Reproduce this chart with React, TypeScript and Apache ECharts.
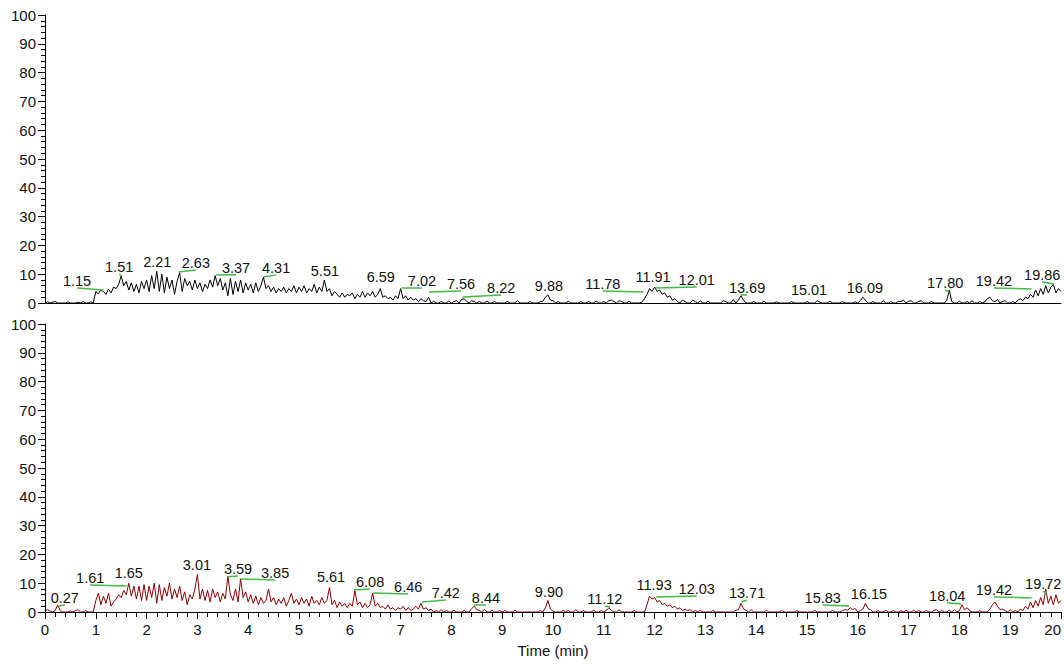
import React, { useEffect, useRef } from "react";
import * as echarts from "echarts";

// sampling step of the traces (minutes)
const STEP = 0.05;

// Upper trace (black), one row per minute, 20 samples each
const topTrace: number[][] = [
  [0,0.4,0,0.3,0.5,0,0,0,0,0.4,0,0,0,0.3,0,0.5,0,0,0.4,0],
  [4.0,3.2,4.5,4.0,3.0,4.8,3.5,5.5,5.0,6.5,9.4,6.0,7.5,4.5,7.0,4.0,6.5,3.5,7.5,5.0],
  [8.0,4.0,9.5,5.0,11.0,4.0,10.0,3.5,9.0,5.0,8.0,3.0,7.5,10.5,4.0,8.5,6.0,7.5,4.5,8.0],
  [5.0,7.0,4.0,6.5,5.0,8.0,5.5,9.5,6.0,8.5,4.5,7.0,2.5,8.5,3.0,7.5,4.0,8.0,3.5,7.0],
  [4.5,6.5,3.5,7.0,4.0,6.0,9.0,5.0,6.0,4.0,5.5,3.5,5.0,4.0,5.5,3.5,5.0,4.0,6.0,3.5],
  [5.5,4.0,6.0,3.5,5.0,4.0,6.5,3.5,5.5,4.0,8.0,4.0,5.0,2.5,4.0,3.0,2.0,3.5,2.0,3.0],
  [2.5,3.5,1.5,3.0,2.0,4.0,2.0,3.5,2.5,4.0,2.0,3.0,5.0,2.0,2.5,1.5,2.0,1.0,2.5,1.5],
  [5.0,1.5,2.5,1.0,2.0,1.0,1.5,0.5,1.5,0.8,0.5,2.0,0,0.6,0,0,0.5,0,0,0.7],
  [0,0.5,0.8,0,1.2,1.5,0.6,0,0.8,0.5,0,0.6,0,0,0.7,0,0,0.5,0,0],
  [0,0,0.6,0,0,0,0.8,0,0,0,0,0.5,0,0,0,0.5,0.6,2.0,2.8,1.0],
  [0.8,0,0.5,0,0,0,0.6,0,0,0,0,0.5,0,0,0.5,0,0,0.7,0,0],
  [0.5,0,0.8,1.0,0.5,0,0.8,0.5,0,0,0.6,0,0,0,0,0.3,1.5,3.0,5.0,4.0],
  [5.5,4.0,4.5,3.0,3.5,2.0,2.5,1.0,1.5,0.5,0,1.0,0.5,0,0,1.0,0.5,0,0.8,0],
  [0,0.6,0,0,0,0,0,0.8,0.5,0,0,1.2,0,1.0,2.5,1.0,0,0,0,0.5],
  [0,0,0,0.6,0,0,0,0,0.4,0,0,0,0,0,0.5,0,0,0,0,0],
  [0.5,0,0,0,0.8,0.3,0,0,0,0.6,0,0,0,0,0.5,0,0,0,0,0.4],
  [0,0.8,2.0,1.0,0,0,0.5,0,0,0,0.8,0,0,0.5,0,0,0.6,0.5,1.0,0],
  [0.6,0.8,0,0,0.6,0.8,0,0,0,0.5,0,0,0,0,0,0.8,4.5,0.5,0,0],
  [0.6,0,0,0.5,0,0.8,0,0,0.5,0,0.4,1.5,2.0,0.8,0.5,1.2,0,0.5,0.8,0],
  [0,0.5,0,1.0,1.5,0.8,2.0,1.5,3.0,2.0,4.5,2.5,5.0,3.0,6.0,3.5,5.5,6.5,3.5,5.0,4.0],
];

// Lower trace (dark red)
const bottomTrace: number[][] = [
  [0.5,0.8,0.3,0,0.5,2.5,0.5,0,0,0,0.4,0,0.5,0.8,0,0,0.5,0,0,0],
  [4.0,6.5,2.5,5.5,3.0,6.5,2.0,3.5,4.5,6.0,5.0,7.5,6.0,10.0,5.5,9.0,4.5,9.0,4.0,9.5],
  [4.0,9.0,5.0,10.0,3.0,9.5,4.0,8.5,5.5,10.0,4.5,8.0,5.0,9.0,4.0,7.0,2.5,6.0,4.5,8.0],
  [13.0,4.5,8.0,4.0,7.5,3.5,8.0,5.0,7.0,3.5,6.5,4.5,12.5,6.0,4.0,8.0,3.5,11.5,5.0,7.0],
  [3.5,6.0,3.0,5.5,2.5,5.0,3.0,4.0,8.0,3.5,5.0,2.5,4.5,3.0,5.0,2.0,4.0,6.5,3.0,4.5],
  [2.5,5.0,3.0,4.5,2.0,5.5,3.0,4.0,2.5,5.0,3.0,4.0,8.5,2.5,4.0,1.5,3.5,2.0,3.0,1.5],
  [3.0,2.0,7.5,2.5,3.5,1.5,3.0,1.5,2.5,6.5,2.0,3.0,1.5,2.0,1.0,2.5,1.0,1.5,0.5,1.5],
  [1.0,2.0,0.5,1.5,0.5,1.0,2.0,1.0,3.0,1.0,1.5,0.5,1.0,0,0.5,0,0.8,0,0.5,0],
  [0,0.6,0,0,0,0.5,0,0,1.2,2.0,0.8,0.5,0,1.0,0,0,0.6,0,0,0.5],
  [0,0.5,0,0,0,0.6,0,0,0,0,0,0,0,0,0,0.5,0,1.5,4.0,1.0],
  [0.3,0,0,0,0.6,0,0.5,0,0,0.8,0,0,0.5,0,0,0,0.6,0,0,0.5],
  [0,0.5,1.5,0.5,0,0,0.8,0,0,0,0,0,0.5,0,0,0,0,2.5,5.5,4.5],
  [5.0,3.5,4.0,2.5,3.0,2.0,2.5,1.5,2.0,1.0,1.5,0.5,1.0,0.5,0.8,0,0.5,0,0.6,0],
  [0,0,0,0.5,0,0,0,0,0,0,0,0,0.6,0.8,3.0,1.0,0.6,0,0.8,0],
  [0,0,0,0,0.6,0,0,0,0,0,0.5,0,0,0,0,0,0.5,0,0,0],
  [0,0,0,0.5,0,0,0,0,0,0,0.5,0,0,0,0.5,0.8,0.6,1.5,0.8,1.2],
  [0,0.5,1.0,3.0,1.2,0.8,0,0,0.5,0,0,0.6,0,0,0.5,0,0,0.5,0,0.6],
  [0,0,0.6,0,0.5,0,0,0.5,0,0,0.6,0.8,0,0.5,0,0,0.6,0,0.8,0],
  [0.5,2.5,0.8,1.5,0.5,0,0,0,0.5,0,0,0,1.0,2.5,3.5,2.0,0.8,1.0,0.5,0],
  [0.8,0,0.5,0,1.0,0.5,2.0,1.0,3.5,1.5,4.0,2.0,5.0,2.5,8.0,3.0,5.5,2.5,6.0,3.0,4.0],
];

// Peak annotations: retention time, apex height of leader line (-1 = no line), label centre (min, %)
const topPeakRt = [1.15,1.51,2.21,2.63,3.37,4.31,5.51,6.59,7.02,7.56,8.22,9.88,11.78,11.91,12.01,13.69,15.01,16.09,17.80,19.42,19.86];
const topPeakApex = [4.5,9.4,-1,10.8,9.7,9.0,-1,-1,5.2,3.8,2.1,-1,3.8,-1,5.2,2.8,-1,-1,3.8,4.9,6.6];
const topLabelX = [0.63,1.46,2.21,2.97,3.76,4.55,5.51,6.61,7.42,8.19,8.98,9.92,10.98,11.97,12.83,13.82,15.04,16.14,17.72,18.68,19.63];
const topLabelY = [7.6,12.5,14.2,13.9,12.2,12.2,11.1,9.0,7.6,6.6,5.2,5.9,6.6,9.0,8.0,5.2,4.5,5.2,6.9,7.6,9.7];

const botPeakRt = [0.27,1.61,1.65,3.01,3.59,3.85,5.61,6.08,6.46,7.42,8.44,9.90,11.12,11.93,12.03,13.71,15.83,16.15,18.04,19.42,19.72];
const botPeakApex = [2.1,9.0,-1,-1,12.2,11.5,-1,7.6,6.6,3.5,2.4,-1,1.7,-1,5.2,3.5,2.1,-1,2.8,4.9,6.6];
const botLabelX = [0.39,0.89,1.65,2.99,3.80,4.53,5.63,6.40,7.15,7.89,8.68,9.92,11.02,11.99,12.83,13.82,15.31,16.22,17.76,18.68,19.65];
const botLabelY = [4.9,11.8,13.5,16.3,14.9,13.5,12.2,10.4,8.7,6.6,4.9,6.9,4.5,9.4,8.0,6.6,4.9,6.2,5.6,7.6,9.7];

const xTickMax = 20;
const yMax = 100;

const FONT_FAMILY = "'Liberation Sans', Arial, Helvetica, sans-serif";
const LABEL_FONT = "14.5px " + FONT_FAMILY;

function toPairs(rows: number[][]) {
  const out: number[][] = [];
  rows.flat().forEach((v, i) => out.push([+(i * STEP).toFixed(2), v]));
  return out;
}

function labelData(rt: number[], apex: number[], lx: number[], ly: number[]) {
  return rt.map((r, i) => [r, apex[i], lx[i], ly[i]]);
}

function renderLabel(params: any, api: any) {
  const rt = api.value(0);
  const apex = api.value(1);
  const lx = api.value(2);
  const ly = api.value(3);
  const l = api.coord([lx, ly]);
  const children: any[] = [];
  if (apex >= 0) {
    const p = api.coord([rt, apex]);
    children.push({
      type: "line",
      shape: { x1: l[0], y1: l[1] + 7, x2: p[0], y2: p[1] },
      style: { stroke: "#44bb44", lineWidth: 1.5 },
    });
  }
  children.push({
    type: "text",
    x: l[0],
    y: l[1],
    style: {
      text: rt.toFixed(2),
      fill: "#111",
      font: LABEL_FONT,
      align: "center",
      verticalAlign: "middle",
    },
  });
  return { type: "group", children };
}

export default function App() {
  const ref = useRef<HTMLDivElement>(null);
  useEffect(() => {
    if (!ref.current) return;
    const chart = echarts.init(ref.current, undefined, { renderer: "svg" });
    const yAxisBase = {
      type: "value",
      min: 0,
      max: yMax,
      interval: 10,
      splitLine: { show: false },
      axisLine: { show: true, lineStyle: { color: "#000", width: 1 } },
      axisTick: { show: true, length: 7, lineStyle: { color: "#000" } },
      minorTick: { show: true, splitNumber: 5, length: 4, lineStyle: { color: "#000" } },
      axisLabel: { color: "#111", fontSize: 15, fontFamily: FONT_FAMILY, margin: 9 },
      z: 10,
    };
    const xAxisBase = {
      type: "value",
      min: 0,
      max: xTickMax,
      interval: 1,
      splitLine: { show: false },
      axisLine: { show: true, onZero: false, lineStyle: { color: "#000", width: 1.2 } },
      z: 10,
    };
    chart.setOption({
      animation: false,
      backgroundColor: "#fff",
      grid: [
        { left: 45, right: 3, top: 15, height: 288, outerBoundsMode: "none", containLabel: false },
        { left: 45, right: 3, top: 324, height: 288, outerBoundsMode: "none", containLabel: false },
      ],
      xAxis: [
        {
          ...xAxisBase,
          gridIndex: 0,
          axisTick: { show: false },
          axisLabel: { show: false },
        },
        {
          ...xAxisBase,
          gridIndex: 1,
          axisTick: { show: true, length: 7, lineStyle: { color: "#000" } },
          minorTick: { show: true, splitNumber: 5, length: 5, lineStyle: { color: "#000" } },
          axisLabel: {
            color: "#111",
            fontSize: 15,
            fontFamily: FONT_FAMILY,
            margin: 10,
            alignMaxLabel: "right",
          },
          name: "Time (min)",
          nameLocation: "middle",
          nameGap: 31,
          nameTextStyle: { color: "#111", fontSize: 15, fontFamily: FONT_FAMILY },
        },
      ],
      yAxis: [
        { ...yAxisBase, gridIndex: 0 },
        { ...yAxisBase, gridIndex: 1 },
      ],
      series: [
        {
          type: "line",
          xAxisIndex: 0,
          yAxisIndex: 0,
          data: toPairs(topTrace),
          showSymbol: false,
          lineStyle: { color: "#000", width: 1 },
          z: 2,
        },
        {
          type: "line",
          xAxisIndex: 1,
          yAxisIndex: 1,
          data: toPairs(bottomTrace),
          showSymbol: false,
          lineStyle: { color: "#8b0000", width: 1 },
          z: 2,
        },
        {
          type: "custom",
          xAxisIndex: 0,
          yAxisIndex: 0,
          data: labelData(topPeakRt, topPeakApex, topLabelX, topLabelY),
          renderItem: renderLabel,
          clip: false,
          z: 5,
        },
        {
          type: "custom",
          xAxisIndex: 1,
          yAxisIndex: 1,
          data: labelData(botPeakRt, botPeakApex, botLabelX, botLabelY),
          renderItem: renderLabel,
          clip: false,
          z: 5,
        },
      ],
    });
    return () => chart.dispose();
  }, []);
  return (
    <div
      ref={ref}
      style={{ position: "fixed", left: 0, top: 0, width: 1064, height: 664, background: "#fff" }}
    />
  );
}
